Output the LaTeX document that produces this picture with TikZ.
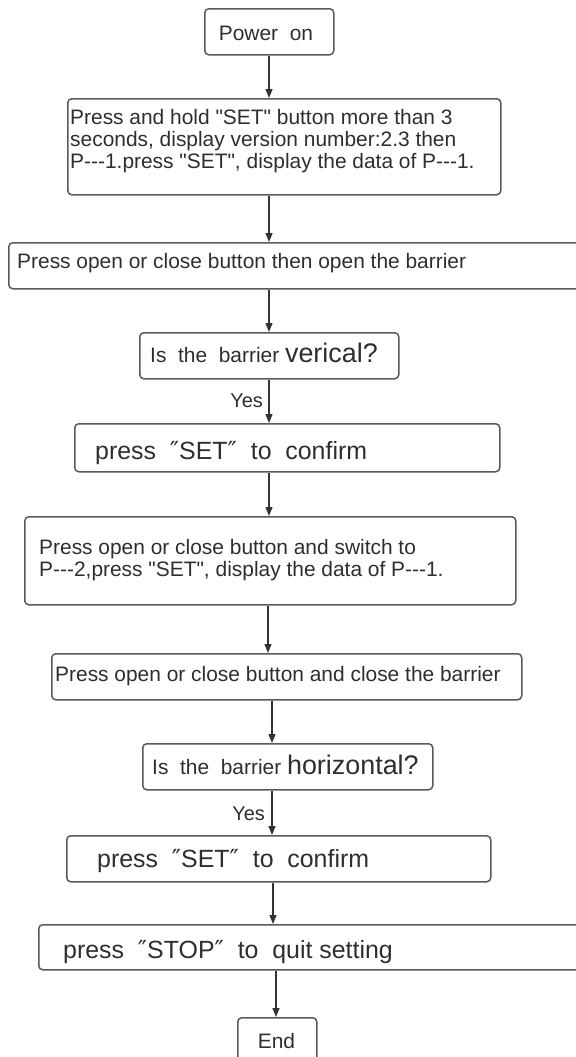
\documentclass[tikz,border=0pt]{standalone}
\usepackage{fontspec}
\setmainfont{Liberation Sans}[Ligatures=TeXOff]
\newfontfamily\primefont{DejaVu Sans}
\usetikzlibrary{arrows.meta}

\definecolor{boxgray}{HTML}{5A5A5A}
\definecolor{linegray}{HTML}{333333}
\definecolor{txtgray}{HTML}{2E2E2E}

% a hyphen that never joins its neighbours into a dash
\newcommand\hy{-\kern0pt}
\newcommand\dq{{\primefont ″}}

\tikzset{
  stepbox/.style={draw=boxgray, line width=1.5bp, rounded corners=4bp,
    anchor=north west, inner sep=0pt, fill=white},
  flowtext/.style={text=txtgray, inner sep=0pt, align=left,
    font=\fontsize{21}{22}\selectfont},
  bigtext/.style={flowtext, font=\fontsize{25}{27}\selectfont},
  yestext/.style={text=txtgray, inner sep=0pt, anchor=base east,
    font=\fontsize{20}{22}\selectfont},
  flow/.style={draw=linegray, line width=1.3bp,
    -{Triangle[length=9bp,width=7bp]}},
}

\begin{document}
\begin{tikzpicture}[x=1bp,y=-1bp]
\useasboundingbox (0,0) rectangle (576,1057);
\fill[white] (0,0) rectangle (576,1057);
\clip (0,0) rectangle (576,1057);

% boxes
\node[stepbox, minimum width=129bp, minimum height=46bp] (pwr) at (204,8) {};
\node[stepbox, minimum width=433bp, minimum height=96bp] (hold) at (67,98) {};
\node[stepbox, minimum width=600bp, minimum height=46bp] (openB) at (8,242) {};
\node[stepbox, minimum width=259bp, minimum height=46bp] (vert) at (139,332) {};
\node[stepbox, minimum width=425bp, minimum height=48bp] (conf1) at (74,423) {};
\node[stepbox, minimum width=491bp, minimum height=88bp] (sw2) at (24,516) {};
\node[stepbox, minimum width=470bp, minimum height=46bp] (closeB) at (51,653) {};
\node[stepbox, minimum width=290bp, minimum height=46bp] (horiz) at (142,743) {};
\node[stepbox, minimum width=424bp, minimum height=46bp] (conf2) at (66,835) {};
\node[stepbox, minimum width=560bp, minimum height=45bp] (stop) at (38,924) {};
\node[stepbox, minimum width=79bp, minimum height=60bp] (endB) at (237,1017) {};

% texts (multi-line nodes sit on the baseline of their last line)
\node[flowtext, anchor=base] (pwrT) at (266,40) {Power\ \ on};
\node[flowtext, anchor=base west] (holdT) at (70,168)
  {Press and hold "SET" button more than 3\\
   seconds, display version number:2.3 then\\
   P\hy\hy\hy 1.press "SET", display the data of P\hy\hy\hy 1.};
\node[flowtext, anchor=base west] (openT) at (17,268)
  {Press open or close button then open the barrier};
\node[flowtext, anchor=base west] (vertT) at (150,362)
  {Is\ \ the\ \ barrier {\fontsize{27}{27}\selectfont verical?}};
\node[bigtext, anchor=base west] (conf1T) at (95,459)
  {press\ \ \dq SET\dq\ \ to\ \ confirm};
\node[flowtext, anchor=base west] (sw2T) at (39,576)
  {Press open or close button and switch to\\
   P\hy\hy\hy 2,press "SET", display the data of P\hy\hy\hy 1.};
\node[flowtext, anchor=base west] (closeT) at (55,681)
  {Press open or close button and close the barrier};
\node[flowtext, anchor=base west] (horizT) at (152,774)
  {Is\ \ the\ \ barrier {\fontsize{27}{27}\selectfont horizontal?}};
\node[bigtext, anchor=base west] (conf2T) at (97,867)
  {press\ \ \dq SET\dq\ \ to\ \ confirm};
\node[bigtext, anchor=base west] (stopT) at (63,958)
  {press\ \ \dq STOP\dq\ \ to\ \ quit setting};
\node[flowtext, anchor=base] (endT) at (276.5,1048) {End};

% connector axes
\coordinate (axA) at (269,0);
\coordinate (axB) at (268,0);
\coordinate (axC) at (272,0);
\coordinate (axD) at (273,0);
\coordinate (axE) at (276,0);

\draw[flow] (pwr.south -| axA) -- (hold.north -| axA);
\draw[flow] (hold.south -| axA) -- (openB.north -| axA);
\draw[flow] (openB.south -| axA) -- (vert.north -| axA);
\draw[flow] (vert.south -| axA) -- (conf1.north -| axA);
\draw[flow] (conf1.south -| axA) -- (sw2.north -| axA);
\draw[flow] (sw2.south -| axB) -- (closeB.north -| axB);
\draw[flow] (closeB.south -| axC) -- (horiz.north -| axC);
\draw[flow] (horiz.south -| axC) -- (conf2.north -| axC);
\draw[flow] (conf2.south -| axD) -- (stop.north -| axD);
\draw[flow] (stop.south -| axE) -- (endB.north -| axE);

% branch labels
\node[yestext] (yes1) at (263,407) {Yes};
\node[yestext] (yes2) at (265,820) {Yes};
\end{tikzpicture}
\end{document}
